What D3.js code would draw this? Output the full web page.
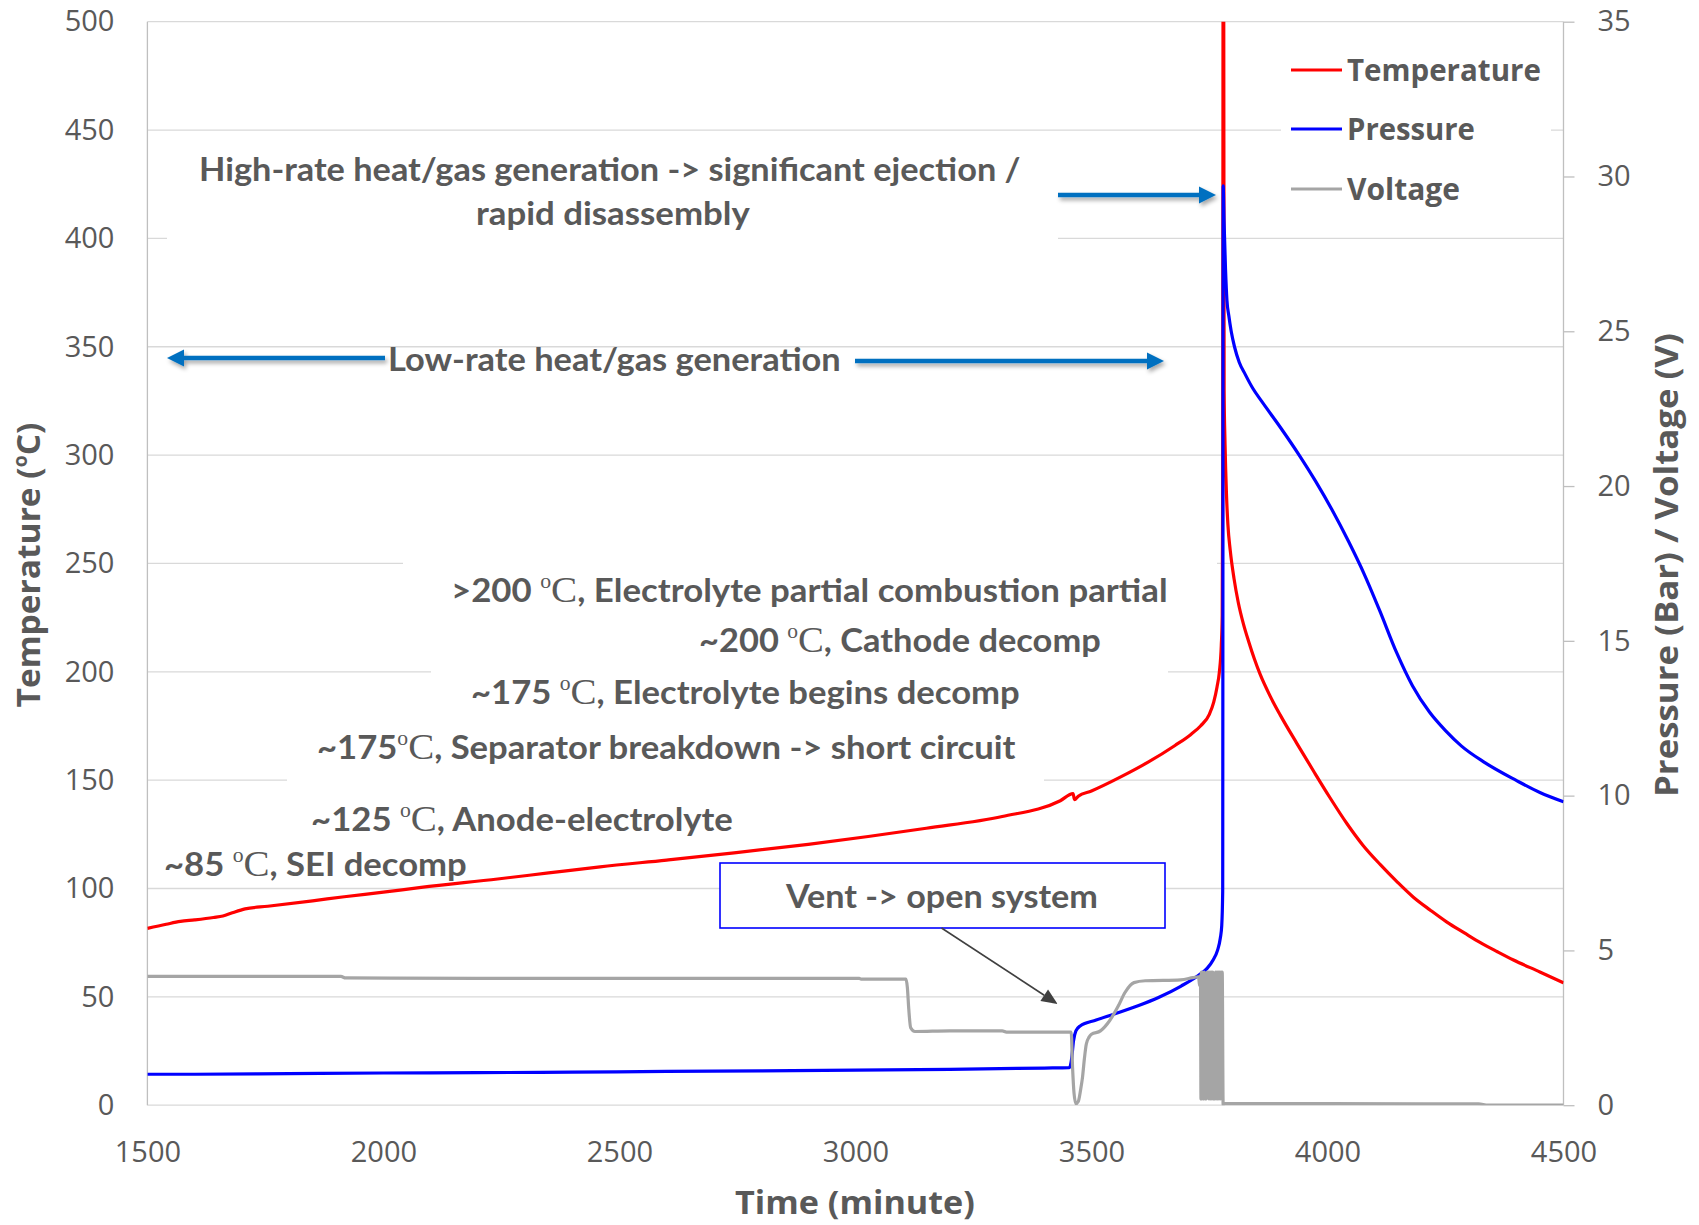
<!DOCTYPE html>
<html><head><meta charset="utf-8">
<script src="https://cdn.jsdelivr.net/npm/d3@7"></script>
<style>html,body{margin:0;padding:0;background:#fff;}svg{display:block;}</style>
</head><body>
<svg id="chart" width="1699" height="1225"></svg>
<script>
// ---------------- DATA ----------------
const xTickValues = [1500, 2000, 2500, 3000, 3500, 4000, 4500];
const leftTickValues = [0, 50, 100, 150, 200, 250, 300, 350, 400, 450, 500];
const rightTickValues = [0, 5, 10, 15, 20, 25, 30, 35];
const seriesNames = ["Temperature", "Pressure", "Voltage"];

// Temperature (°C) vs time (minute) — left axis
const temperature = [
  [1500,81.6],[1540,83.5],[1570,84.8],[1600,85.5],[1640,86.6],[1660,87.3],[1680,88.8],[1707,90.6],
  [1755,91.8],[1850,94.3],[1917,96.2],[2000,98.3],[2080,100.5],[2242,104.4],[2350,107.2],[2459,110],
  [2600,113.1],[2743,116.4],[2900,120.4],[3027,124],[3150,127.8],[3311,133.2],[3434,140.5],[3461,143.8],
  [3464,141],[3472,142.6],[3500,145],[3563,151.6],[3620,158.3],[3677,166],[3710,171],[3731,175],
  [3750,180.5],[3759,186],[3766,193],[3771,200],[3775,212],[3777,226],[3778,290],[3779,560],[3780,560],
  [3781,330],[3783,305],[3786,282],[3789,268],[3794,256],[3802,243],[3811,232],[3822,222],[3833,214],
  [3845,206],[3857,199],[3878,189],[3900,180],[3935,167],[3971,154],[4005,142],[4041,130],[4075,120],
  [4112,111],[4147,103.2],[4182,96],[4218,90],[4253,84.5],[4290,79.5],[4324,75],[4360,70.8],
  [4394,67],[4450,61.5],[4500,56.5]
];

// Pressure (Bar) vs time — right axis
const pressure = [
  [1500,1.0],[1600,1.0],[1800,1.02],[2000,1.04],[2200,1.05],[2400,1.07],[2600,1.09],[2800,1.11],
  [3000,1.13],[3200,1.16],[3400,1.2],[3453,1.21],[3458,1.5],[3462,2.08],[3467,2.4],[3476,2.56],
  [3510,2.75],[3547,2.94],[3600,3.22],[3642,3.48],[3690,3.85],[3727,4.2],[3745,4.42],[3758,4.7],
  [3767,5.0],[3773,5.4],[3776,5.8],[3778,6.9],[3779,29.7],[3781,28.5],[3784,27.0],[3787,26.0],
  [3791,25.5],[3796,25.0],[3803,24.5],[3813,24.0],[3826,23.6],[3842,23.15],[3860,22.75],[3900,21.9],
  [3940,21.0],[3975,20.15],[4009,19.25],[4045,18.2],[4078,17.15],[4110,16.0],[4147,14.6],[4180,13.55],
  [4216,12.7],[4250,12.1],[4284,11.6],[4330,11.1],[4399,10.5],[4450,10.1],[4500,9.8]
];

// Voltage (V) vs time — right axis
const voltage = [
  [1500,4.16],[1700,4.16],[1910,4.16],[1920,4.11],[2200,4.1],[2500,4.1],[2800,4.1],[3008,4.1],
  [3012,4.07],[3107,4.07],[3110,3.8],[3113,3.1],[3117,2.5],[3126,2.38],[3200,2.4],[3311,2.4],
  [3320,2.36],[3457,2.36],[3460,1.2],[3463,0.4],[3467,0.05],[3472,0.12],[3477,0.5],[3481,0.9],
  [3485,1.5],[3489,1.97],[3495,2.2],[3500,2.29],[3519,2.4],[3538,2.72],[3557,3.21],[3571,3.64],
  [3590,3.96],[3614,4.02],[3689,4.05],[3715,4.12],[3727,4.15],[3729,3.86],[3731,4.2],
  [3732,0.2],[3733,4.3],[3734,0.2],[3735,4.3],[3736,0.3],[3737,4.2],[3738,0.2],[3739,4.3],[3741,0.2],
  [3742,4.25],[3743,0.2],[3745,4.3],[3746,0.25],[3748,4.3],[3749,0.2],[3751,4.3],[3752,0.2],[3754,4.3],
  [3755,0.2],[3757,4.3],[3758,0.2],[3760,4.2],[3761,0.2],[3763,4.3],[3764,0.2],[3766,4.3],[3767,0.2],
  [3769,4.3],[3770,0.2],[3772,4.3],[3773,0.2],[3775,4.3],[3776,0.2],[3777,4.3],[3779,0.0],
  [3781,0.05],[4000,0.05],[4320,0.04],[4340,0.0],[4500,0.0]
];

// ---------------- LAYOUT ----------------
const W = 1699, H = 1225;
const PL = 147.4, PR = 1563.5, PT = 21.7, PB = 1105.2;
const TXT = "#595959";
const COLORS = {Temperature: "#FF0000", Pressure: "#0000FF", Voltage: "#A5A5A5"};

const svg = d3.select("#chart");
const x = d3.scaleLinear().domain([1500, 4500]).range([PL, PR]);
const yL = d3.scaleLinear().domain([0, 500]).range([PB, PT]);
const yR = d3.scaleLinear().domain([0, 35]).range([PB, PT]);

const defs = svg.append("defs");
defs.append("clipPath").attr("id", "plotclip").append("rect")
  .attr("x", PL).attr("y", PT).attr("width", PR - PL).attr("height", PB - PT);
const f = defs.append("filter").attr("id", "shadow").attr("x", "-10%").attr("y", "-100%").attr("width", "120%").attr("height", "300%");
f.append("feDropShadow").attr("dx", 2).attr("dy", 3).attr("stdDeviation", 2)
  .attr("flood-color", "#000").attr("flood-opacity", 0.35);

// gridlines
svg.append("g").selectAll("line").data(leftTickValues).join("line")
  .attr("x1", PL).attr("x2", PR).attr("y1", d => yL(d)).attr("y2", d => yL(d))
  .attr("stroke", "#D9D9D9").attr("stroke-width", 1.3);

// white backgrounds of annotation text boxes (hide gridlines like the original)
const masks = [
  [167, 150, 1058, 245],
  [403, 555, 1217, 612],
  [431, 662, 1168, 683],
  [287, 770, 1044, 790],
  [1281, 40, 1551, 215]
];
svg.append("g").selectAll("rect").data(masks).join("rect")
  .attr("x", d => d[0]).attr("y", d => d[1]).attr("width", d => d[2] - d[0]).attr("height", d => d[3] - d[1])
  .attr("fill", "#fff");

// axis lines
svg.append("line").attr("x1", PL).attr("x2", PL).attr("y1", PT).attr("y2", PB).attr("stroke", "#BFBFBF").attr("stroke-width", 1.3);
svg.append("line").attr("x1", PR).attr("x2", PR).attr("y1", PT).attr("y2", PB).attr("stroke", "#BFBFBF").attr("stroke-width", 1.3);

// axes
function styleAxis(g) {
  g.select(".domain").remove();
  g.selectAll("text").attr("fill", TXT).attr("font-family", "'Open Sans', sans-serif").attr("font-size", 29);
}
svg.append("g").attr("transform", `translate(${PL},0)`)
  .call(d3.axisLeft(yL).tickValues(leftTickValues).tickSize(0).tickPadding(33).tickFormat(d3.format("d")))
  .call(styleAxis);
svg.append("g").attr("transform", `translate(${PR},0)`)
  .call(d3.axisRight(yR).tickValues(rightTickValues).tickSize(11).tickPadding(23).tickFormat(d3.format("d")))
  .call(styleAxis)
  .call(g => g.selectAll("line").attr("stroke", "#BFBFBF").attr("stroke-width", 1.3));
svg.append("g").attr("transform", `translate(0,${PB})`)
  .call(d3.axisBottom(x).tickValues(xTickValues).tickSize(0).tickPadding(36).tickFormat(d3.format("d")))
  .call(styleAxis);

// series
const lineL = d3.line().curve(d3.curveMonotoneX).x(d => x(d[0])).y(d => yL(d[1]));
const lineR = d3.line().curve(d3.curveMonotoneX).x(d => x(d[0])).y(d => yR(d[1]));
const sg = svg.append("g").attr("clip-path", "url(#plotclip)");
sg.append("path").datum(temperature).attr("d", lineL).attr("fill", "none")
  .attr("stroke", COLORS.Temperature).attr("stroke-width", 3.2).attr("stroke-linejoin", "round");
sg.append("path").datum(pressure).attr("d", lineR).attr("fill", "none")
  .attr("stroke", COLORS.Pressure).attr("stroke-width", 3.2).attr("stroke-linejoin", "round");
sg.append("path").datum(voltage).attr("d", lineR).attr("fill", "none")
  .attr("stroke", COLORS.Voltage).attr("stroke-width", 3.2).attr("stroke-linejoin", "round");

// text helper: builds text, then fits it to target width
function fitText(parent, parts, o) {
  const t = parent.append("text").attr("fill", o.fill || TXT);
  parts.forEach(p => {
    const s = t.append("tspan").text(p.t)
      .attr("font-family", p.f || o.f || "Lato, sans-serif")
      .attr("font-weight", p.w || o.w || "bold")
      .attr("font-size", p.s || o.s || 32);
    if (p.dy) s.attr("dy", p.dy);
  });
  const bb = t.node().getBBox();
  const sx = o.width / bb.width;
  const off = o.anchor === "middle" ? bb.x + bb.width / 2 : bb.x;
  t.attr("transform", `translate(${o.x},${o.y}) rotate(${o.rot || 0}) scale(${sx},1) translate(${-off},0)`);
  return t;
}
const SERIF = "'Liberation Serif', 'Times New Roman', serif";
function degParts(pre, post) {
  return [{t: pre}, {t: "o", f: SERIF, w: "normal", s: 20, dy: -14}, {t: "C", f: SERIF, w: "normal", s: 36, dy: 14}, {t: post}];
}

const ann = svg.append("g");
// phase annotations
fitText(ann, [{t: "High-rate heat/gas generation -> significant ejection /"}], {x: 199, y: 181, width: 822});
fitText(ann, [{t: "rapid disassembly"}], {x: 476, y: 225, width: 274});
fitText(ann, [{t: "Low-rate heat/gas generation"}], {x: 388, y: 371, width: 453});

const notes = [
  {pre: ">200 ", post: ", Electrolyte partial combustion partial", x: 451, y: 602, w: 717},
  {pre: "~200 ", post: ", Cathode decomp", x: 699, y: 652, w: 402},
  {pre: "~175 ", post: ", Electrolyte begins decomp", x: 471, y: 704, w: 549},
  {pre: "~175", post: ", Separator breakdown -> short circuit", x: 317, y: 759, w: 699},
  {pre: "~125 ", post: ", Anode-electrolyte", x: 311, y: 831, w: 422},
  {pre: "~85 ", post: ", SEI decomp", x: 164, y: 876, w: 303}
];
notes.forEach(n => fitText(ann, degParts(n.pre, n.post), {x: n.x, y: n.y, width: n.w}));

// blue block arrows
const arrows = svg.append("g").attr("filter", "url(#shadow)");
function blockArrow(x1, y, x2) {
  const dir = Math.sign(x2 - x1), hl = 17, hw = 8.5;
  arrows.append("line").attr("x1", x1).attr("x2", x2 - dir * hl).attr("y1", y).attr("y2", y)
    .attr("stroke", "#0070C0").attr("stroke-width", 4.5);
  arrows.append("path").attr("d", `M${x2},${y} L${x2 - dir * hl},${y - hw} L${x2 - dir * hl},${y + hw} Z`)
    .attr("fill", "#0070C0");
}
blockArrow(1058, 195, 1216);
blockArrow(385, 358, 167);
blockArrow(855, 361, 1164);

// vent callout
svg.append("rect").attr("x", 720).attr("y", 863).attr("width", 445).attr("height", 65)
  .attr("fill", "#fff").attr("stroke", "#0000FF").attr("stroke-width", 1.6);
(function () {
  const x1 = 941.5, y1 = 928, x2 = 1057.6, y2 = 1004;
  const a = Math.atan2(y2 - y1, x2 - x1), hl = 16, hw = 7;
  const bx = x2 - hl * Math.cos(a), by = y2 - hl * Math.sin(a);
  svg.append("line").attr("x1", x1).attr("y1", y1).attr("x2", bx).attr("y2", by)
    .attr("stroke", "#404040").attr("stroke-width", 1.6);
  svg.append("path").attr("d",
    `M${x2},${y2} L${bx + hw * Math.sin(a)},${by - hw * Math.cos(a)} L${bx - hw * Math.sin(a)},${by + hw * Math.cos(a)} Z`)
    .attr("fill", "#404040");
})();
ann.raise();
fitText(ann, [{t: "Vent -> open system"}], {x: 785, y: 908, width: 313});

// legend
const legY = [70, 129, 189];
const legW = [194, 128, 113];
const leg = svg.append("g");
seriesNames.forEach((n, i) => {
  leg.append("line").attr("x1", 1291).attr("x2", 1342).attr("y1", legY[i]).attr("y2", legY[i])
    .attr("stroke", COLORS[n]).attr("stroke-width", 3.2);
  fitText(leg, [{t: n}], {x: 1347, y: legY[i] + 11, width: legW[i], f: "'Open Sans', sans-serif", s: 30});
});

// axis titles
const titles = svg.append("g");
fitText(titles, [{t: "Time (minute)"}], {x: 855, y: 1214, width: 240, anchor: "middle", f: "'Open Sans', sans-serif", s: 32});
fitText(titles, [{t: "Temperature ("}, {t: "o", s: 19, dy: -13}, {t: "C)", dy: 13}],
  {x: 40, y: 565, width: 285, anchor: "middle", rot: -90, f: "'Open Sans', sans-serif", s: 33});
fitText(titles, [{t: "Pressure (Bar) / Voltage (V)"}],
  {x: 1678, y: 565, width: 464, anchor: "middle", rot: -90, f: "'Open Sans', sans-serif", s: 33});
</script>
</body></html>
